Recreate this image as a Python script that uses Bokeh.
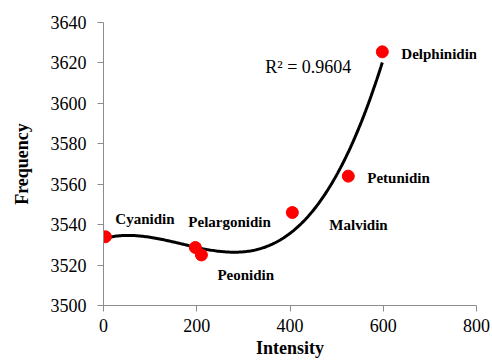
import numpy as np
from bokeh.plotting import figure
from bokeh.models import ColumnDataSource, Range1d, Label, FixedTicker
from bokeh.core.properties import value
from bokeh.embed import file_html
from bokeh.resources import INLINE

names = ["Cyanidin", "Pelargonidin", "Peonidin", "Malvidin", "Petunidin", "Delphinidin"]
intensity = [4, 197, 210, 405, 525, 598]
frequency = [3534, 3528.7, 3525, 3546, 3564, 3625.5]
r2_text = "R\u00b2 = 0.9604"
x_ticks = [0, 200, 400, 600, 800]
y_ticks = [3500, 3520, 3540, 3560, 3580, 3600, 3620, 3640]

# label offsets in screen pixels (style)
dx = [10, -7, 16, 37, 19, 19]
dy = [-18, -25, 20, 12, 2, 2]

p = figure(width=492, height=362, output_backend="svg", toolbar_location=None,
           x_range=Range1d(0, 800), y_range=Range1d(3500, 3640),
           min_border_left=103, min_border_right=16, min_border_top=22, min_border_bottom=57)
p.outline_line_color = None
p.xgrid.grid_line_color = None
p.ygrid.grid_line_color = None

# trend line: cubic polynomial fit
coef = np.polyfit(intensity, frequency, 3)
xs = np.linspace(min(intensity), max(intensity), 200)
ys = np.polyval(coef, xs)
p.line(xs, ys, line_color="black", line_width=3)

src = ColumnDataSource(dict(x=intensity, y=frequency, name=names, dx=dx, dy=dy))
p.scatter("x", "y", source=src, size=12, fill_color="#FF0000", line_color="#FF0000")
p.text("x", "y", text="name", source=src, x_offset="dx", y_offset="dy",
       text_font=value("Liberation Serif"), text_font_style="bold",
       text_font_size="15px", text_baseline="middle", text_align="left", text_color="black")

p.add_layout(Label(x=347, y=3618, text=r2_text, text_font="Liberation Serif",
                   text_font_size="18px", text_baseline="middle", text_color="black"))

for ax, ticks in ((p.xaxis, x_ticks), (p.yaxis, y_ticks)):
    ax.ticker = FixedTicker(ticks=ticks)
    ax.axis_line_color = "#8c8c8c"
    ax.major_tick_line_color = "#8c8c8c"
    ax.minor_tick_line_color = None
    ax.major_tick_out = 6
    ax.major_tick_in = 0
    ax.major_label_text_font = "Liberation Serif"
    ax.major_label_text_font_size = "18px"
    ax.major_label_text_color = "black"
    ax.axis_label_text_font = "Liberation Serif"
    ax.axis_label_text_font_style = "bold"
    ax.axis_label_text_font_size = "18px"
    ax.axis_label_text_color = "black"

p.xaxis.axis_label = "Intensity"
p.yaxis.axis_label = "Frequency"
p.xaxis.major_label_standoff = 7
p.xaxis.axis_label_standoff = 3
p.yaxis.major_label_standoff = 11
p.yaxis.axis_label_standoff = 16

open("out.html", "w").write(file_html(p, INLINE))
